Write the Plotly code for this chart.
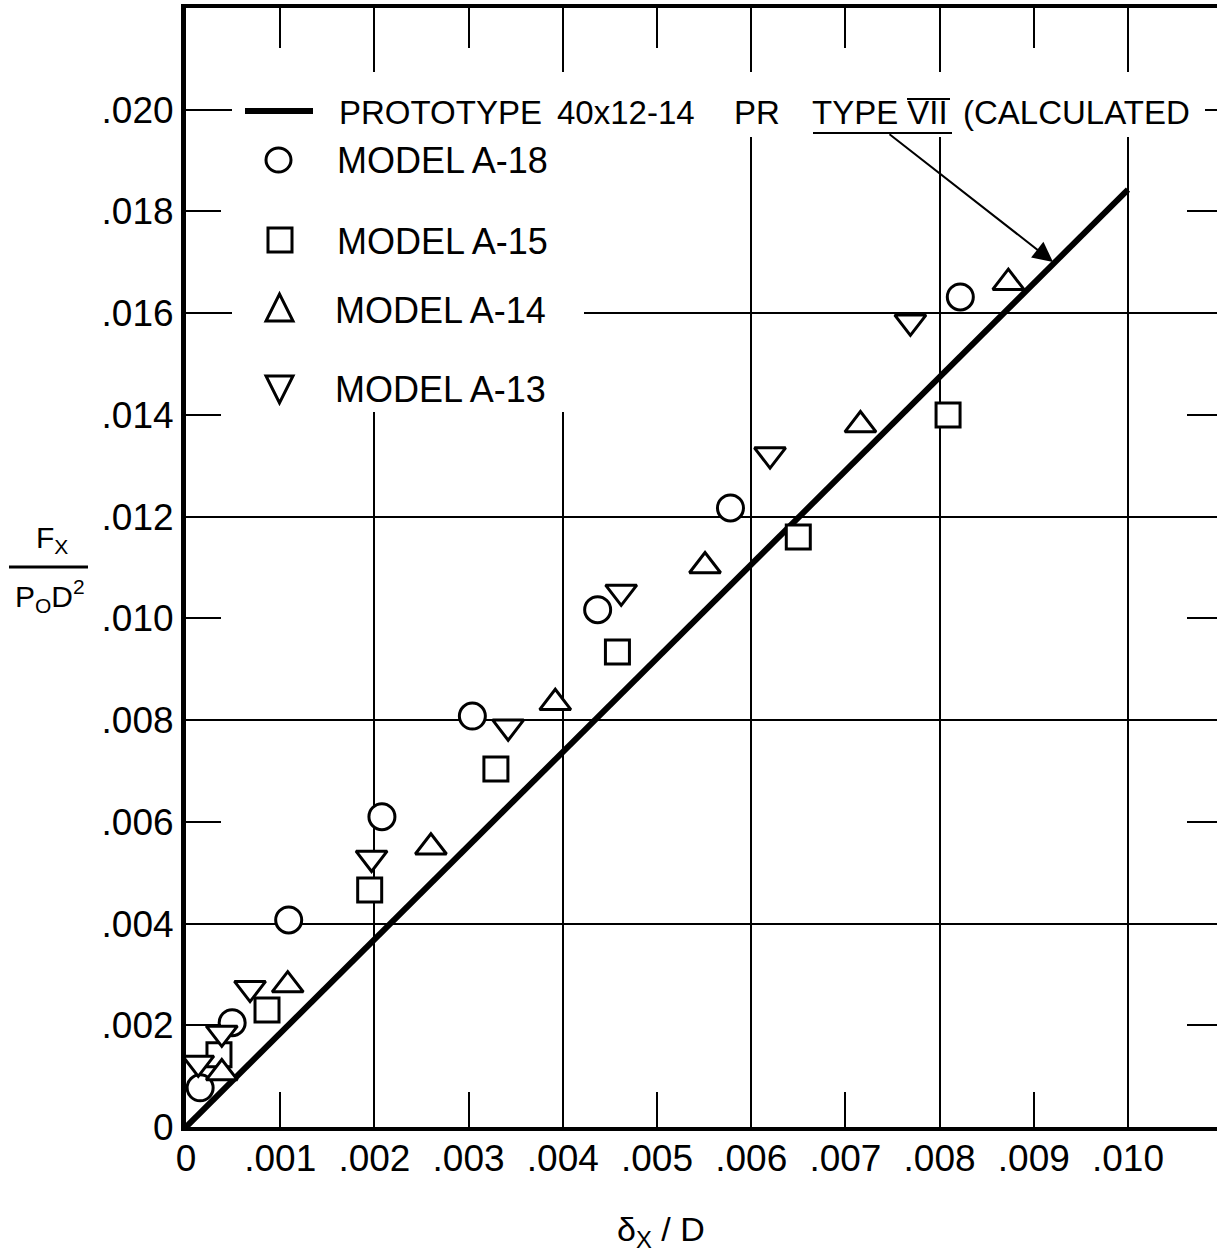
import plotly.graph_objects as go

# ---------------- data ----------------
proto_x = [0.0, 0.010]
proto_y = [0.0, 0.01843]

a18_x = [0.00015, 0.00049, 0.00109, 0.00208, 0.00304, 0.00437, 0.00578, 0.00822]
a18_y = [0.00077, 0.00205, 0.00407, 0.00610, 0.00808, 0.01017, 0.01217, 0.01632]

a15_x = [0.00035, 0.00086, 0.00195, 0.00329, 0.00458, 0.00650, 0.00809]
a15_y = [0.00142, 0.00230, 0.00466, 0.00704, 0.00934, 0.01160, 0.01400]

a14_x = [0.00038, 0.00108, 0.00260, 0.00392, 0.00551, 0.00716, 0.00873]
a14_y = [0.00106, 0.00279, 0.00550, 0.00834, 0.01103, 0.01380, 0.01660]

a13_x = [0.00013, 0.00038, 0.00068, 0.00197, 0.00342, 0.00462, 0.00620, 0.00769]
a13_y = [0.00126, 0.00185, 0.00273, 0.00529, 0.00787, 0.01052, 0.01322, 0.01583]

x_tickvals = [0.000, 0.001, 0.002, 0.003, 0.004, 0.005, 0.006, 0.007, 0.008, 0.009, 0.010]
x_ticktext = ["0", ".001", ".002", ".003", ".004", ".005", ".006", ".007", ".008", ".009", ".010"]
x_grid = [0.002, 0.004, 0.006, 0.008, 0.010]
x_top_ticks = [0.001, 0.003, 0.005, 0.007, 0.009]

y_tickvals = [0.000, 0.002, 0.004, 0.006, 0.008, 0.010, 0.012, 0.014, 0.016, 0.018, 0.020]
y_ticktext = ["0", ".002", ".004", ".006", ".008", ".010", ".012", ".014", ".016", ".018", ".020"]
y_grid = [0.004, 0.008, 0.012, 0.016, 0.020]
y_right_ticks = [0.002, 0.006, 0.010, 0.014, 0.018]

proto_label = ["PROTOTYPE", "40x12-14", "PR", "TYPE VII", "(CALCULATED"]
series_names = ["MODEL A-18", "MODEL A-15", "MODEL A-14", "MODEL A-13"]

# ---------------- geometry ----------------
W, H = 1217, 1258
L, R, T, B = 186, 1217, 8, 1127
X_MAX = 0.010945
Y_MAX = 0.022
FONT = "Liberation Sans"


def px(x):
    return (x - L) / (R - L)


def py(y):
    return (B - y) / (B - T)


fig = go.Figure()

# prototype line on the main axes (drawn below the markers)
fig.add_trace(go.Scatter(x=proto_x, y=proto_y, mode="lines", xaxis="x", yaxis="y",
                         line=dict(color="black", width=6),
                         name=" ".join(proto_label), showlegend=False))

mk_line = dict(color="black", width=3)
fig.add_trace(go.Scatter(x=a18_x, y=a18_y, mode="markers", name=series_names[0], showlegend=False,
                         xaxis="x2", yaxis="y2",
                         marker=dict(symbol="circle", size=26, color="white", line=mk_line)))
fig.add_trace(go.Scatter(x=a15_x, y=a15_y, mode="markers", name=series_names[1], showlegend=False,
                         xaxis="x2", yaxis="y2",
                         marker=dict(symbol="square", size=24, color="white", line=mk_line)))
fig.add_trace(go.Scatter(x=a14_x, y=a14_y, mode="markers", name=series_names[2], showlegend=False,
                         xaxis="x2", yaxis="y2",
                         marker=dict(symbol="triangle-up", size=27, color="white", line=mk_line)))
fig.add_trace(go.Scatter(x=a13_x, y=a13_y, mode="markers", name=series_names[3], showlegend=False,
                         xaxis="x2", yaxis="y2",
                         marker=dict(symbol="triangle-down", size=27, color="white", line=mk_line)))

tickfont = dict(family=FONT, size=37, color="black")

fig.update_layout(
    width=W, height=H,
    margin=dict(l=L, r=W - R, t=T, b=H - B, pad=0),
    paper_bgcolor="white", plot_bgcolor="white",
    showlegend=False,
    xaxis=dict(range=[0, X_MAX], tickmode="array", tickvals=x_tickvals, ticktext=x_ticktext,
               ticks="inside", ticklen=35, tickwidth=2, tickcolor="black",
               showline=True, linewidth=4, linecolor="black",
               showgrid=False, zeroline=False, tickfont=tickfont, ticklabelstandoff=-4),
    xaxis2=dict(range=[0, X_MAX], overlaying="x", side="top", anchor="y2",
                tickmode="array", tickvals=x_grid, ticks="", showticklabels=False,
                showgrid=True, gridcolor="black", gridwidth=2,
                showline=True, linewidth=4, linecolor="black", zeroline=False,
                minor=dict(tickmode="array", tickvals=x_top_ticks, ticks="inside", ticklen=40,
                           tickwidth=2, tickcolor="black", showgrid=False)),
    yaxis=dict(range=[0, Y_MAX], tickmode="array", tickvals=y_tickvals, ticktext=y_ticktext,
               ticks="inside", ticklen=35, tickwidth=2, tickcolor="black",
               showline=True, linewidth=5, linecolor="black",
               showgrid=False, zeroline=False, tickfont=tickfont, ticklabelstandoff=0),
    yaxis2=dict(range=[0, Y_MAX], overlaying="y", side="right", anchor="x2",
                tickmode="array", tickvals=y_grid, ticks="", showticklabels=False,
                showgrid=True, gridcolor="black", gridwidth=2,
                showline=False, zeroline=False,
                minor=dict(tickmode="array", tickvals=y_right_ticks, ticks="inside", ticklen=30,
                           tickwidth=2, tickcolor="black", showgrid=False)),
)

shapes = []
# white masks behind legend text (cover grid lines)
shapes.append(dict(type="rect", xref="paper", yref="paper", x0=px(232), x1=px(1205),
                   y0=py(137), y1=py(72), fillcolor="white", line=dict(width=0), layer="above"))
shapes.append(dict(type="rect", xref="paper", yref="paper", x0=px(232), x1=px(584),
                   y0=py(412), y1=py(137), fillcolor="white", line=dict(width=0), layer="above"))
# legend line sample
shapes.append(dict(type="line", xref="paper", yref="paper", x0=px(245), x1=px(313),
                   y0=py(111), y1=py(111), line=dict(color="black", width=6), layer="above"))
# legend symbols
lw = dict(color="black", width=3)
shapes.append(dict(type="circle", xref="paper", yref="paper", x0=px(266), x1=px(291),
                   y0=py(172), y1=py(148), line=lw, fillcolor="white", layer="above"))
shapes.append(dict(type="rect", xref="paper", yref="paper", x0=px(268), x1=px(292),
                   y0=py(252), y1=py(228), line=lw, fillcolor="white", layer="above"))


def tri_path(pts):
    s = "M %f,%f" % (px(pts[0][0]), py(pts[0][1]))
    for p in pts[1:]:
        s += " L %f,%f" % (px(p[0]), py(p[1]))
    return s + " Z"


shapes.append(dict(type="path", xref="paper", yref="paper",
                   path=tri_path([(266, 321), (293, 321), (279.5, 294)]),
                   line=lw, fillcolor="white", layer="above"))
shapes.append(dict(type="path", xref="paper", yref="paper",
                   path=tri_path([(266, 376), (293, 376), (279.5, 403)]),
                   line=lw, fillcolor="white", layer="above"))
# underline of TYPE VII and roman-numeral bar over VII
shapes.append(dict(type="line", xref="paper", yref="paper", x0=px(813), x1=px(952),
                   y0=py(133), y1=py(133), line=dict(color="black", width=2), layer="above"))
shapes.append(dict(type="line", xref="paper", yref="paper", x0=px(907), x1=px(950),
                   y0=py(99), y1=py(99), line=dict(color="black", width=2), layer="above"))
# y-title fraction bar
shapes.append(dict(type="line", xref="paper", yref="paper", x0=px(9), x1=px(88),
                   y0=py(567), y1=py(567), line=dict(color="black", width=3), layer="above"))
fig.update_layout(shapes=shapes)

lfont = dict(family=FONT, size=36, color="black")
pfont = dict(family=FONT, size=33, color="black")
ann = []


def txt(x, y, s, font=lfont, xanchor="left"):
    ann.append(dict(xref="paper", yref="paper", x=px(x), y=py(y), text=s, showarrow=False,
                    xanchor=xanchor, yanchor="middle", font=font, borderpad=0))


txt(338, 112, proto_label[0], font=pfont)
txt(556, 112, proto_label[1], font=pfont)
txt(733, 112, proto_label[2], font=pfont)
txt(811, 112, proto_label[3], font=pfont)
txt(962, 112, proto_label[4], font=pfont)
txt(336, 161, series_names[0])
txt(336, 241, series_names[1])
txt(334, 311, series_names[2])
txt(334, 389, series_names[3])

# arrow from label to line
ann.append(dict(xref="paper", yref="paper", x=px(1053), y=py(262), text="",
                showarrow=True, ax=888 - 1053, ay=133 - 262, axref="pixel", ayref="pixel",
                arrowhead=2, arrowsize=2, arrowwidth=2, arrowcolor="black", standoff=0))

# axis titles
tfont = dict(family=FONT, size=30, color="black")
txt(52, 539, "F<sub>X</sub>", font=tfont, xanchor="center")
txt(50, 596, "P<sub>O</sub>D<sup>2</sup>", font=tfont, xanchor="center")
txt(661, 1231, "δ<sub>X</sub> / D", font=dict(family=FONT, size=34, color="black"), xanchor="center")

fig.update_layout(annotations=ann)

fig.write_html("out.html")
